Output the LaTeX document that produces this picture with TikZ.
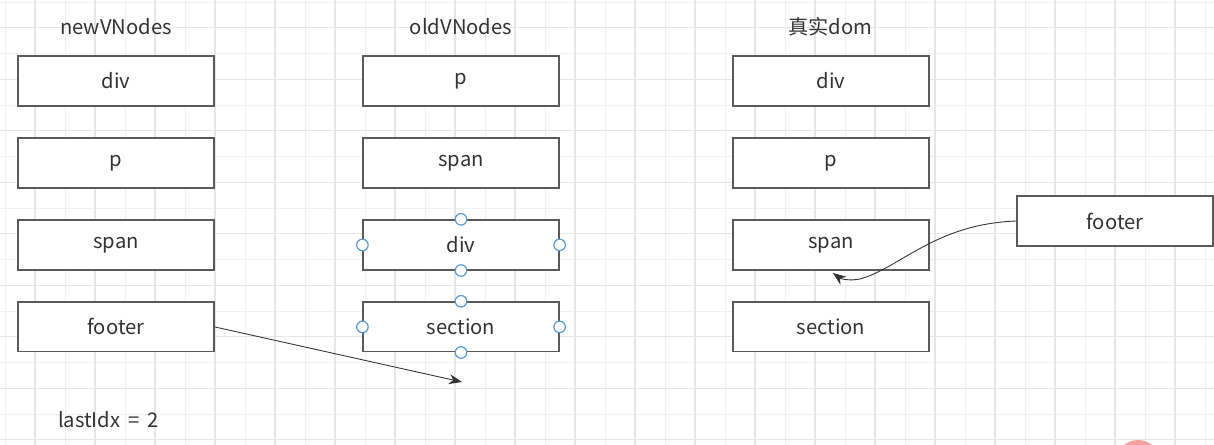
\documentclass[tikz,border=0pt]{standalone}
\usepackage{fontspec}
\setmainfont{Noto Sans CJK SC}
\usetikzlibrary{arrows.meta,positioning}
\definecolor{Ink}{HTML}{333333}
\definecolor{Edge}{HTML}{5A5A5A}
\definecolor{GridLine}{HTML}{F1F1F1}
\definecolor{GridMajor}{HTML}{E6E6E6}
\definecolor{PortBlue}{HTML}{5B9BD5}
\definecolor{Blush}{HTML}{F7A1A1}
\tikzset{
  vnode/.style={
    draw=Edge, line width=0.7pt, fill=white, text=Ink,
    minimum width=3.92cm, minimum height=1cm, inner sep=0pt,
    font=\fontsize{11.5}{13}\selectfont
  },
  title/.style={text=Ink, font=\fontsize{11.5}{13}\selectfont},
  port/.style={
    circle, draw=PortBlue, fill=white, line width=0.7pt,
    minimum size=0.23cm, inner sep=0pt
  },
  move/.style={-{Stealth[length=2.6mm,width=2mm]}, line width=0.5pt, draw=Ink}
}

\begin{document}
\begin{tikzpicture}[x=0.02cm,y=-0.02cm,node distance=0.615cm]
    \useasboundingbox (0,0) rectangle (1214,445);
    \clip (0,0) rectangle (1214,445);
    % grid
    \foreach \gx in {5,65,...,1205}
      \draw[GridLine, line width=0.5pt] (\gx,0) -- (\gx,445);
    \foreach \gy in {2,53.5,...,445}
      \draw[GridLine, line width=0.5pt] (0,\gy) -- (1214,\gy);
    \foreach \gx in {35,95,...,1205}
      \draw[GridMajor, line width=0.6pt] (\gx,0) -- (\gx,445);
    \foreach \gy in {27.75,79.25,...,445}
      \draw[GridMajor, line width=0.6pt] (0,\gy) -- (1214,\gy);

    % titles
    \node[title] (tnew) at (116,27) {newVNodes};
    \node[title] (told) at (461,27) {oldVNodes};
    \node[title] (tdom) at (830,27) {真实dom};

    % newVNodes
    \node[vnode] (n1) at (116,81) {div};
    \node[vnode,below=of n1] (n2) {p};
    \node[vnode,below=of n2] (n3) {span};
    \node[vnode,below=of n3] (n4) {footer};

    % oldVNodes
    \node[vnode] (o1) at (461,81) {p};
    \node[vnode,below=of o1] (o2) {span};
    \node[vnode,below=of o2] (o3) {div};
    \node[vnode,below=of o3] (o4) {section};

    % real dom
    \node[vnode] (d1) at (831,81) {div};
    \node[vnode,below=of d1] (d2) {p};
    \node[vnode,below=of d2] (d3) {span};
    \node[vnode,below=of d3] (d4) {section};

    \node[vnode] (ft) at (1115,221) {footer};

    % selection handles
    \foreach \sel in {o3,o4}
      \foreach \side in {north,south,east,west}
        \node[port] (\sel-\side) at (\sel.\side) {};

    \node[title,anchor=west] (idx) at (52,420) {lastIdx \,=\, 2};

    \coordinate (tipA) at (462,382);
    \coordinate (tipB) at (833,273);
    \draw[move] (n4.east) -- (tipA);
    \draw[move] (ft.west) .. controls (935,224) and (900,268) .. (860,279)
      .. controls (850,281) and (841,279) .. (tipB);

    \fill[Blush] (1138,462) circle (22);
  \end{tikzpicture}
\end{document}
